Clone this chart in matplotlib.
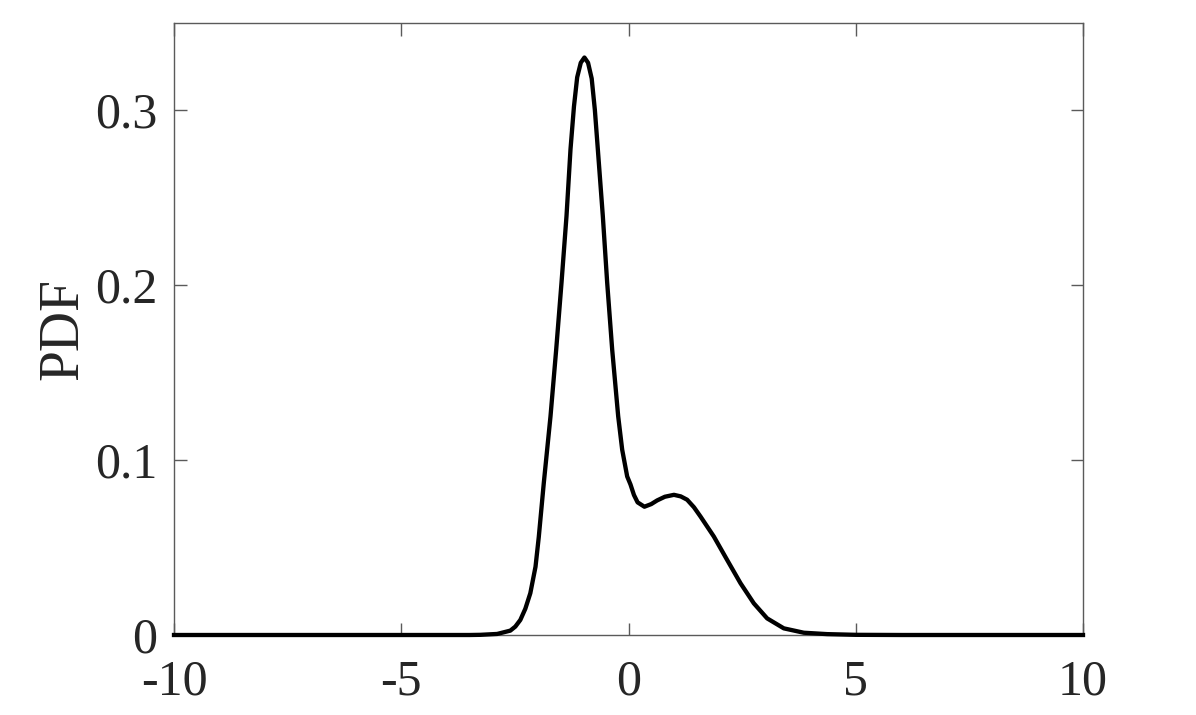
import matplotlib
matplotlib.use("Agg")
import matplotlib.pyplot as plt

# values
X_VALUES = [
    -10.0, -4.0, -3.5, -3.26, -2.89, -2.60, -2.49, -2.38, -2.27, -2.16,
    -2.046, -1.974, -1.864, -1.716, -1.591, -1.474, -1.364, -1.276, -1.20,
    -1.129, -1.05, -0.97, -0.89, -0.81, -0.74, -0.675, -0.565, -0.469,
    -0.359, -0.227, -0.139, -0.029, 0.044, 0.12, 0.20, 0.35, 0.50, 0.63,
    0.80, 1.00, 1.15, 1.29, 1.44, 1.584, 1.877, 2.17, 2.464, 2.757, 3.05,
    3.417, 3.857, 4.37, 5.0, 6.0, 10.0,
]
PDF_VALUES = [
    0.0, 0.0, 0.0, 0.0001, 0.0006, 0.0025, 0.0048, 0.0086, 0.015, 0.0239,
    0.039, 0.056, 0.0868, 0.125, 0.1631, 0.2013, 0.2394, 0.2776, 0.302,
    0.3187, 0.327, 0.330, 0.327, 0.318, 0.300, 0.2776, 0.2394, 0.2013,
    0.1631, 0.125, 0.1059, 0.0906, 0.086, 0.080, 0.0758, 0.0733, 0.0748,
    0.0769, 0.0790, 0.0801, 0.0792, 0.0773, 0.0730, 0.0677, 0.0563, 0.0429,
    0.0296, 0.0181, 0.0095, 0.0038, 0.0013, 0.0005, 0.0001, 0.0, 0.0,
]
X_TICKS = [-10, -5, 0, 5, 10]
Y_TICKS = [0, 0.1, 0.2, 0.3]
Y_TICK_LABELS = ["0", "0.1", "0.2", "0.3"]

TEXT_COLOR = "#262626"
AXIS_COLOR = "#5a5a5a"

plt.rcParams.update({
    "font.family": ["Liberation Serif", "DejaVu Serif"],
    "mathtext.fontset": "stix",
})

fig = plt.figure(figsize=(11.96, 7.15), dpi=100)
ax = fig.add_axes([174 / 1196, 1 - 635 / 715, (1083 - 174) / 1196, (635 - 22.5) / 715])

ax.plot(X_VALUES, PDF_VALUES, color="black", linewidth=3.1, solid_joinstyle="round",
        clip_on=False, zorder=3)

ax.set_xlim(-10, 10)
ax.set_ylim(0, 0.35)
ax.set_xticks(X_TICKS)
ax.set_xticklabels([str(t) for t in X_TICKS])
ax.set_yticks(Y_TICKS)
ax.set_yticklabels(Y_TICK_LABELS)

ax.tick_params(axis="both", direction="in", length=9, width=1.0, color=AXIS_COLOR,
               labelsize=36, labelcolor=TEXT_COLOR, top=True, right=True)
ax.tick_params(axis="x", pad=17)
ax.tick_params(axis="y", pad=12)
for spine in ax.spines.values():
    spine.set_color(AXIS_COLOR)
    spine.set_linewidth(1.0)

ax.set_ylabel("PDF", fontsize=40, color=TEXT_COLOR, labelpad=4)

fig.savefig("out.png", dpi=100)
